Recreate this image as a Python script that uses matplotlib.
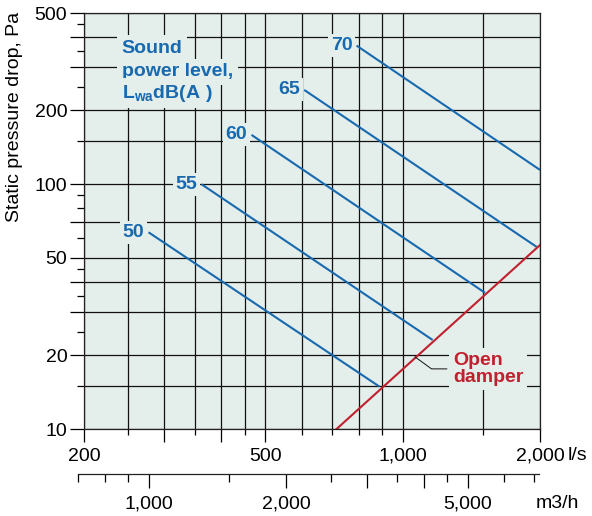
"""Pressure drop / sound power chart for a damper, log-log with l/s and m3/h scales."""
from math import log10

import matplotlib

matplotlib.use("Agg")
import matplotlib.pyplot as plt
from matplotlib.ticker import FixedLocator, FuncFormatter, NullFormatter

plt.rcParams["font.family"] = ["Liberation Sans", "DejaVu Sans"]
plt.rcParams["mathtext.fontset"] = "custom"
plt.rcParams["mathtext.rm"] = "Liberation Sans"
plt.rcParams["mathtext.bf"] = "Liberation Sans:bold"

BG = "#e4eeea"
BLUE = "#1769b0"
RED = "#c1202e"
M3H_PER_LS = 3.6

# sound power level lines (l/s, Pa), start at the label, end on the open damper curve
sound_levels = [50, 55, 60, 65, 70]
flow_start = [277, 362, 466, 608, 792]
dp_start = [63.6, 99.9, 158.9, 242.6, 368]
flow_end = [889, 1163, 1515, 1967, 2000]
dp_end = [14.9, 23.1, 36.0, 55.4, 114.3]

# open damper
damper_flow = [716, 2000]
damper_dp = [10, 56.4]
damper_leader_flow = [1064, 1250]
damper_leader_dp = [19.7, 17.6]

# axes
x_grid = [200, 250, 300, 350, 400, 450, 500, 600, 700, 800, 900, 1000, 1500, 2000]
x_major = [200, 300, 400, 500, 1000, 2000]
x_labels = [200, 500, 1000, 2000]
y_grid = [10, 15, 20, 30, 40, 50, 70, 100, 150, 200, 300, 400, 500]
y_major = [10, 20, 30, 40, 50, 70, 100, 200, 300, 400, 500]
y_minor = [15, 25, 35, 45, 60, 80, 90, 150, 250, 350, 450]
y_labels = [10, 20, 50, 100, 200, 500]
m3h_major = [1000, 2000, 3000, 4000, 5000]
m3h_minor = [700, 800, 900, 1500, 2500, 3500, 4500, 6000, 7000]
m3h_labels = [1000, 2000, 5000]
m3h_range = [700, 7150]


def fmt(labels):
    return FuncFormatter(lambda v, pos: f"{int(round(v)):,}" if round(v) in labels else "")


W, H = 592, 516
fig = plt.figure(figsize=(W / 100, H / 100), dpi=100)
ax = fig.add_axes([84 / W, (H - 429) / H, 456 / W, 416 / H])
ax.set_facecolor(BG)
ax.set_xscale("log")
ax.set_yscale("log")
ax.set_xlim(200, 2000)
ax.set_ylim(10, 500)

for v in x_grid:
    ax.axvline(v, color="#111111", lw=0.9, zorder=1)
for v in y_grid:
    ax.axhline(v, color="#111111", lw=0.9, zorder=1)

ax.xaxis.set_major_locator(FixedLocator(x_major))
ax.xaxis.set_minor_locator(FixedLocator([v for v in x_grid if v not in x_major]))
ax.xaxis.set_major_formatter(fmt(x_labels))
ax.xaxis.set_minor_formatter(NullFormatter())
ax.yaxis.set_major_locator(FixedLocator(y_major))
ax.yaxis.set_minor_locator(FixedLocator(y_minor))
ax.yaxis.set_major_formatter(fmt(y_labels))
ax.yaxis.set_minor_formatter(NullFormatter())
ax.tick_params(which="major", length=9.5, width=0.9, labelsize=14, pad=4)
ax.tick_params(which="minor", length=4.5, width=0.9)
ax.tick_params(axis="y", which="major", length=10, pad=2)
ax.tick_params(axis="y", which="minor", length=5.3)
for s in ax.spines.values():
    s.set_linewidth(0.9)
    s.set_color("#222222")
    s.set_zorder(5)

for lvl, x0, y0, x1, y1 in zip(sound_levels, flow_start, dp_start, flow_end, dp_end):
    ax.plot([x0, x1], [y0, y1], color=BLUE, lw=1.5, zorder=3, solid_capstyle="butt")
    ax.annotate(str(lvl), xy=(x0, y0), xytext=(-3, 0), textcoords="offset points",
                ha="right", va="center", color=BLUE, fontsize=14, fontweight="bold",
                zorder=4, bbox=dict(boxstyle="square,pad=0.15", fc=BG, ec="none"))

ax.plot(damper_flow, damper_dp, color=RED, lw=1.5, zorder=3)
ax.annotate("", xy=(damper_leader_flow[0], damper_leader_dp[0]),
            xytext=(damper_leader_flow[1], damper_leader_dp[1]),
            arrowprops=dict(arrowstyle="-", color="#111111", lw=0.7, shrinkA=0, shrinkB=0,
                            connectionstyle="angle,angleA=0,angleB=-36,rad=0"),
            zorder=3)
ax.text((453 - 84) / 456, (429 - 369) / 416, "Open\ndamper", transform=ax.transAxes,
        ha="left", va="center", color=RED, fontsize=14, fontweight="bold",
        linespacing=1.05, zorder=4,
        bbox=dict(boxstyle="square,pad=0.2", fc=BG, ec="none"))

sound_lines = ["Sound", "power level,", r"$\mathbf{L_{wa}dB(A\ )}$"]
for txt, base in zip(sound_lines, [53.3, 76.5, 97.5]):
    ax.text((121.7 - 84) / 456, (429 - base) / 416, txt, transform=ax.transAxes,
            ha="left", va="baseline", color=BLUE, fontsize=14, fontweight="bold",
            zorder=4, bbox=dict(boxstyle="square,pad=0.25", fc=BG, ec="none"))

ax.text(1 + 28 / 456, -(455 - 429) / 416, "l/s", transform=ax.transAxes,
        ha="left", va="center", fontsize=14)
fig.text(15 / W, 1 - 12 / H, "Static pressure drop, Pa", rotation=90,
         ha="center", va="top", fontsize=14)

# m3/h scale under the l/s axis
px_per_dec = 456 / 1.0
left_px = 84 + px_per_dec * log10(m3h_range[0] / (200 * M3H_PER_LS))
right_px = 84 + px_per_dec * log10(m3h_range[1] / (200 * M3H_PER_LS))
ax2 = fig.add_axes([left_px / W, (H - 473.5) / H, (right_px - left_px) / W, 1e-4])
ax2.set_xscale("log")
ax2.set_xlim(*m3h_range)
ax2.patch.set_visible(False)
for k in ["top", "left", "right"]:
    ax2.spines[k].set_visible(False)
ax2.spines["bottom"].set_linewidth(0.9)
ax2.spines["bottom"].set_color("#222222")
ax2.yaxis.set_visible(False)
ax2.xaxis.set_major_locator(FixedLocator(m3h_major))
ax2.xaxis.set_minor_locator(FixedLocator(m3h_minor))
ax2.xaxis.set_major_formatter(fmt(m3h_labels))
ax2.xaxis.set_minor_formatter(NullFormatter())
ax2.tick_params(which="major", length=10, width=0.9, labelsize=14, pad=5.5)
ax2.tick_params(which="minor", length=5.5, width=0.9)
fig.text(557 / W, 1 - 503 / H, "m3/h", ha="center", va="center", fontsize=14)

fig.savefig("out.png", dpi=100)
